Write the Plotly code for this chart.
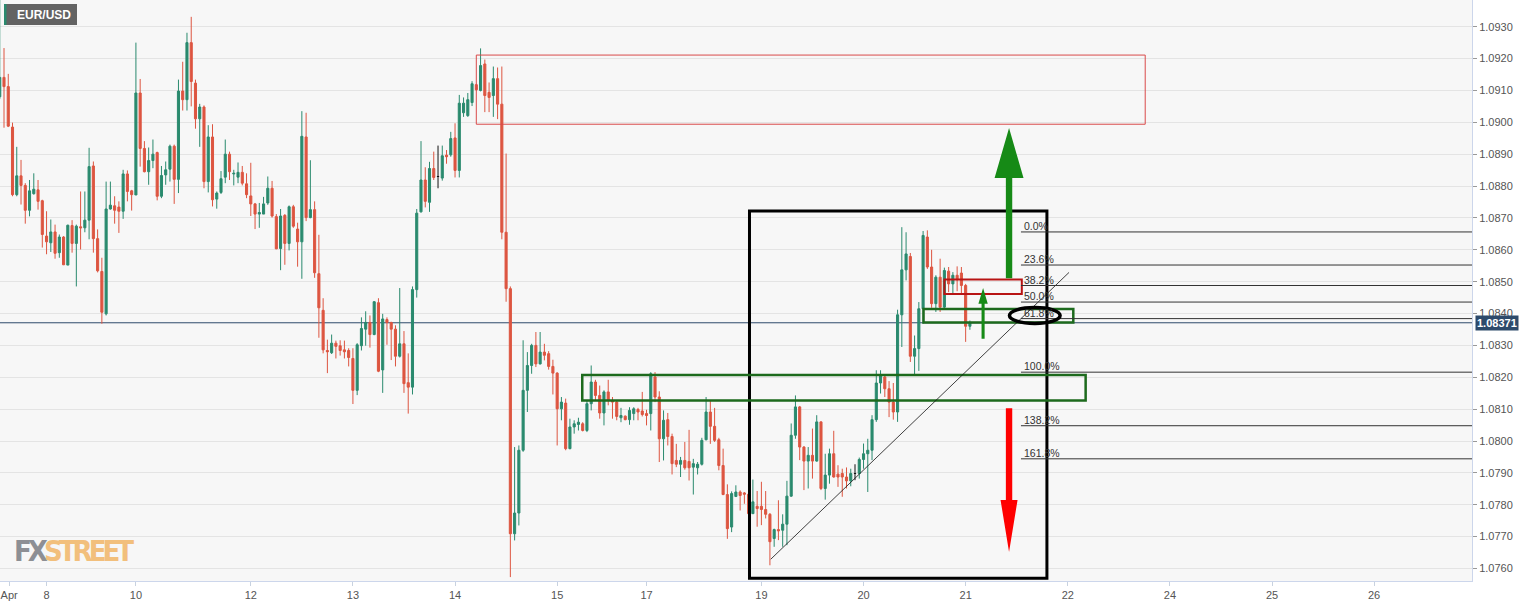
import plotly.graph_objects as go

ticker = "EUR/USD"
last_price = 1.08371

# hourly candles, index -1 .. 227
candle_open = [
    1.09080, 1.09141, 1.09112, 1.08985, 1.08773, 1.08832, 1.08802, 1.08724, 1.08776, 1.08788,
    1.08754, 1.08643, 1.08622, 1.08656, 1.08591, 1.08640, 1.08552, 1.08676, 1.08620, 1.08672,
    1.08669, 1.08693, 1.08863, 1.08635, 1.08532, 1.08399, 1.08728, 1.08738, 1.08734, 1.08721,
    1.08838, 1.08785, 1.08772, 1.09092, 1.08918, 1.08845, 1.08880, 1.08905, 1.08768, 1.08835,
    1.08853, 1.08925, 1.08821, 1.09098, 1.09071, 1.09250, 1.09123, 1.09011, 1.09048, 1.08814,
    1.08954, 1.08759, 1.08780, 1.08828, 1.08900, 1.08838, 1.08828, 1.08843, 1.08807, 1.08769,
    1.08744, 1.08712, 1.08712, 1.08747, 1.08793, 1.08704, 1.08604, 1.08708, 1.08620, 1.08735,
    1.08665, 1.08625, 1.08954, 1.08701, 1.08726, 1.08525, 1.08410, 1.08284, 1.08277, 1.08307,
    1.08299, 1.08286, 1.08284, 1.08259, 1.08159, 1.08299, 1.08351, 1.08372, 1.08334, 1.08434,
    1.08223, 1.08381, 1.08372, 1.08351, 1.08266, 1.08305, 1.08183, 1.08169, 1.08475, 1.08719,
    1.08819, 1.08749, 1.08855, 1.08830, 1.08825, 1.08897, 1.08898, 1.08951, 1.08849, 1.09030,
    1.09021, 1.09062, 1.09118, 1.09100, 1.09183, 1.09094, 1.09084, 1.09137, 1.09057, 1.08655,
    1.08478, 1.07709, 1.07774, 1.07971, 1.08159, 1.08237, 1.08300, 1.08242, 1.08279, 1.08274,
    1.08234, 1.08213, 1.08101, 1.08119, 1.07976, 1.08044, 1.08052, 1.08054, 1.08033, 1.08117,
    1.08185, 1.08143, 1.08088, 1.08154, 1.08127, 1.08122, 1.08073, 1.08078, 1.08067, 1.08086,
    1.08099, 1.08094, 1.08086, 1.08086, 1.08201, 1.08138, 1.08007, 1.08067, 1.08014, 1.07939,
    1.07927, 1.07939, 1.07936, 1.07918, 1.07916, 1.07927, 1.08004, 1.08091, 1.08046, 1.08004,
    1.07923, 1.07832, 1.07730, 1.07826, 1.07840, 1.07837, 1.07833, 1.07772, 1.07795, 1.07795,
    1.07785, 1.07770, 1.07694, 1.07722, 1.07720, 1.07739, 1.07827, 1.08018, 1.08107, 1.07981,
    1.07937, 1.07955, 1.07937, 1.08060, 1.07851, 1.07893, 1.07960, 1.07896, 1.07898, 1.07887,
    1.07875, 1.07898, 1.07898, 1.07942, 1.07960, 1.07971, 1.08067, 1.08182, 1.08201, 1.08164,
    1.08122, 1.08091, 1.08396, 1.08537, 1.08579, 1.08266, 1.08290, 1.08415, 1.08640, 1.08546,
    1.08431, 1.08514, 1.08420, 1.08533, 1.08493, 1.08520, 1.08527, 1.08488, 1.08360,
]
candle_high = [
    1.09400, 1.09233, 1.09152, 1.08999, 1.08923, 1.08882, 1.08809, 1.08819, 1.08840, 1.08819,
    1.08757, 1.08721, 1.08695, 1.08679, 1.08648, 1.08643, 1.08679, 1.08693, 1.08679, 1.08783,
    1.08783, 1.08920, 1.08877, 1.08664, 1.08575, 1.08814, 1.08814, 1.08768, 1.08752, 1.08851,
    1.08849, 1.08788, 1.09250, 1.09136, 1.08941, 1.08921, 1.08946, 1.08908, 1.08863, 1.08877,
    1.08930, 1.08930, 1.09134, 1.09190, 1.09281, 1.09331, 1.09134, 1.09058, 1.09053, 1.08991,
    1.08994, 1.08783, 1.08847, 1.08946, 1.08908, 1.08851, 1.08874, 1.08863, 1.08840, 1.08873,
    1.08747, 1.08747, 1.08766, 1.08830, 1.08816, 1.08712, 1.08728, 1.08712, 1.08739, 1.08741,
    1.08685, 1.09035, 1.09030, 1.08881, 1.08752, 1.08647, 1.08448, 1.08318, 1.08334, 1.08315,
    1.08316, 1.08315, 1.08291, 1.08291, 1.08307, 1.08388, 1.08407, 1.08394, 1.08439, 1.08448,
    1.08399, 1.08388, 1.08374, 1.08363, 1.08480, 1.08345, 1.08275, 1.08485, 1.08728, 1.08941,
    1.08859, 1.08876, 1.08908, 1.08927, 1.08927, 1.08913, 1.08970, 1.08997, 1.09086, 1.09078,
    1.09092, 1.09129, 1.09121, 1.09232, 1.09197, 1.09125, 1.09175, 1.09172, 1.09175, 1.08902,
    1.08485, 1.07981, 1.07986, 1.08316, 1.08279, 1.08305, 1.08342, 1.08342, 1.08305, 1.08282,
    1.08255, 1.08216, 1.08138, 1.08133, 1.08070, 1.08065, 1.08073, 1.08059, 1.08127, 1.08237,
    1.08192, 1.08174, 1.08159, 1.08192, 1.08138, 1.08127, 1.08104, 1.08080, 1.08106, 1.08106,
    1.08104, 1.08154, 1.08098, 1.08216, 1.08216, 1.08156, 1.08096, 1.08088, 1.08023, 1.07991,
    1.07950, 1.07997, 1.08035, 1.07944, 1.07934, 1.08010, 1.08138, 1.08127, 1.08104, 1.08010,
    1.07976, 1.07864, 1.07842, 1.07861, 1.07845, 1.07840, 1.07840, 1.07879, 1.07843, 1.07872,
    1.07843, 1.07774, 1.07725, 1.07814, 1.07770, 1.07875, 1.08055, 1.08143, 1.08110, 1.07984,
    1.07981, 1.08039, 1.08081, 1.08062, 1.07960, 1.07976, 1.08032, 1.07924, 1.07913, 1.07917,
    1.07913, 1.07927, 1.07948, 1.07992, 1.08007, 1.08081, 1.08222, 1.08222, 1.08209, 1.08188,
    1.08182, 1.08412, 1.08671, 1.08655, 1.08590, 1.08331, 1.08436, 1.08659, 1.08661, 1.08600,
    1.08520, 1.08572, 1.08544, 1.08546, 1.08530, 1.08548, 1.08546, 1.08493, 1.08378,
]
candle_low = [
    1.09073, 1.08983, 1.08985, 1.08768, 1.08768, 1.08742, 1.08682, 1.08705, 1.08773, 1.08726,
    1.08607, 1.08586, 1.08593, 1.08572, 1.08575, 1.08552, 1.08552, 1.08591, 1.08485, 1.08601,
    1.08655, 1.08633, 1.08591, 1.08529, 1.08368, 1.08394, 1.08726, 1.08682, 1.08653, 1.08697,
    1.08752, 1.08723, 1.08772, 1.08861, 1.08843, 1.08804, 1.08856, 1.08755, 1.08762, 1.08804,
    1.08814, 1.08744, 1.08778, 1.09037, 1.09037, 1.09050, 1.08980, 1.08923, 1.08793, 1.08780,
    1.08736, 1.08729, 1.08775, 1.08809, 1.08819, 1.08802, 1.08809, 1.08802, 1.08762, 1.08706,
    1.08665, 1.08669, 1.08712, 1.08741, 1.08701, 1.08602, 1.08536, 1.08553, 1.08598, 1.08669,
    1.08547, 1.08509, 1.08690, 1.08699, 1.08512, 1.08324, 1.08275, 1.08213, 1.08273, 1.08259,
    1.08268, 1.08259, 1.08234, 1.08116, 1.08144, 1.08284, 1.08299, 1.08293, 1.08332, 1.08216,
    1.08151, 1.08302, 1.08254, 1.08234, 1.08262, 1.08151, 1.08086, 1.08146, 1.08450, 1.08717,
    1.08733, 1.08719, 1.08819, 1.08793, 1.08817, 1.08870, 1.08892, 1.08827, 1.08827, 1.09017,
    1.09017, 1.09051, 1.09100, 1.09097, 1.09032, 1.09032, 1.09017, 1.09010, 1.08633, 1.08437,
    1.07573, 1.07688, 1.07735, 1.07966, 1.08091, 1.08211, 1.08232, 1.08240, 1.08253, 1.08224,
    1.08146, 1.07986, 1.08065, 1.07971, 1.07974, 1.08023, 1.08033, 1.08030, 1.08028, 1.08096,
    1.08127, 1.08070, 1.08049, 1.08112, 1.08070, 1.08065, 1.08059, 1.08065, 1.08051, 1.08065,
    1.08065, 1.08077, 1.08049, 1.08033, 1.08122, 1.07934, 1.07939, 1.07986, 1.07895, 1.07918,
    1.07887, 1.07910, 1.07876, 1.07832, 1.07895, 1.07923, 1.08002, 1.07991, 1.07997, 1.07908,
    1.07830, 1.07693, 1.07714, 1.07824, 1.07782, 1.07803, 1.07765, 1.07772, 1.07731, 1.07736,
    1.07757, 1.07610, 1.07668, 1.07689, 1.07668, 1.07673, 1.07825, 1.08007, 1.07940, 1.07846,
    1.07851, 1.07882, 1.07935, 1.07846, 1.07816, 1.07866, 1.07885, 1.07856, 1.07825, 1.07851,
    1.07858, 1.07877, 1.07882, 1.07913, 1.07840, 1.07940, 1.08060, 1.08149, 1.08138, 1.08075,
    1.08067, 1.08060, 1.08295, 1.08504, 1.08248, 1.08209, 1.08220, 1.08368, 1.08540, 1.08418,
    1.08405, 1.08405, 1.08415, 1.08467, 1.08462, 1.08470, 1.08464, 1.08311, 1.08349,
]
candle_close = [
    1.09141, 1.09112, 1.08988, 1.08773, 1.08832, 1.08802, 1.08724, 1.08785, 1.08790, 1.08752,
    1.08648, 1.08625, 1.08656, 1.08589, 1.08640, 1.08553, 1.08677, 1.08620, 1.08674, 1.08669,
    1.08693, 1.08861, 1.08635, 1.08534, 1.08404, 1.08728, 1.08740, 1.08724, 1.08721, 1.08838,
    1.08783, 1.08773, 1.09092, 1.08918, 1.08845, 1.08880, 1.08900, 1.08768, 1.08833, 1.08851,
    1.08925, 1.08821, 1.09098, 1.09071, 1.09250, 1.09128, 1.09011, 1.09048, 1.08814, 1.08954,
    1.08757, 1.08778, 1.08823, 1.08900, 1.08845, 1.08840, 1.08843, 1.08809, 1.08773, 1.08744,
    1.08712, 1.08717, 1.08744, 1.08793, 1.08706, 1.08603, 1.08706, 1.08620, 1.08735, 1.08674,
    1.08625, 1.08956, 1.08701, 1.08726, 1.08528, 1.08418, 1.08286, 1.08280, 1.08307, 1.08297,
    1.08284, 1.08280, 1.08262, 1.08159, 1.08302, 1.08353, 1.08372, 1.08334, 1.08437, 1.08219,
    1.08383, 1.08372, 1.08351, 1.08266, 1.08305, 1.08180, 1.08169, 1.08475, 1.08715, 1.08819,
    1.08752, 1.08855, 1.08827, 1.08830, 1.08895, 1.08892, 1.08949, 1.08849, 1.09060, 1.09060,
    1.09071, 1.09121, 1.09102, 1.09178, 1.09084, 1.09078, 1.09137, 1.09057, 1.08655, 1.08478,
    1.07709, 1.07774, 1.07971, 1.08159, 1.08237, 1.08300, 1.08242, 1.08279, 1.08269, 1.08234,
    1.08213, 1.08101, 1.08122, 1.07976, 1.08044, 1.08054, 1.08059, 1.08033, 1.08117, 1.08185,
    1.08143, 1.08088, 1.08154, 1.08127, 1.08122, 1.08077, 1.08080, 1.08067, 1.08096, 1.08101,
    1.08091, 1.08083, 1.08080, 1.08211, 1.08138, 1.08007, 1.08065, 1.08014, 1.07929, 1.07927,
    1.07939, 1.07916, 1.07916, 1.07929, 1.07927, 1.08002, 1.08091, 1.08046, 1.08002, 1.07923,
    1.07832, 1.07725, 1.07835, 1.07840, 1.07829, 1.07833, 1.07772, 1.07809, 1.07788, 1.07785,
    1.07770, 1.07684, 1.07722, 1.07718, 1.07739, 1.07827, 1.08018, 1.08107, 1.07981, 1.07937,
    1.07955, 1.07937, 1.08060, 1.07851, 1.07893, 1.07960, 1.07887, 1.07887, 1.07887, 1.07875,
    1.07898, 1.07898, 1.07942, 1.07960, 1.07971, 1.08067, 1.08182, 1.08206, 1.08164, 1.08122,
    1.08091, 1.08396, 1.08537, 1.08587, 1.08266, 1.08290, 1.08415, 1.08645, 1.08546, 1.08431,
    1.08514, 1.08420, 1.08535, 1.08493, 1.08520, 1.08506, 1.08488, 1.08360, 1.08371,
]
bar_index = list(range(-1, 228))

date_labels = ["Apr", "8", "10", "12", "13", "14", "15", "17", "19", "20", "21", "22", "24", "25", "26"]
date_bar = [1.2, 10, 31, 58, 82, 106, 130, 151, 178, 202, 226, 250, 274, 298, 322]

fib_high = 1.08656
fib_low = 1.08216
fib_ratios = [0.0, 0.236, 0.382, 0.5, 0.618, 1.0, 1.382, 1.618]
fib_labels = ["0.0%", "23.6%", "38.2%", "50.0%", "61.8%", "100.0%", "138.2%", "161.8%"]

price_ticks = [round(1.0760 + 0.001 * k, 4) for k in range(18)]

UP = "#2a8a6e"
DOWN = "#dd5540"

fig = go.Figure()

reg = [k for k in range(len(bar_index)) if candle_open[k] != candle_close[k]]
doj = [k for k in range(len(bar_index)) if candle_open[k] == candle_close[k]]

fig.add_trace(go.Candlestick(
    x=[bar_index[k] for k in reg],
    open=[candle_open[k] for k in reg],
    high=[candle_high[k] for k in reg],
    low=[candle_low[k] for k in reg],
    close=[candle_close[k] for k in reg],
    increasing=dict(line=dict(color=UP, width=1), fillcolor=UP),
    decreasing=dict(line=dict(color=DOWN, width=1), fillcolor=DOWN),
    showlegend=False, hoverinfo="skip",
))
fig.add_trace(go.Candlestick(
    x=[bar_index[k] for k in doj],
    open=[candle_open[k] for k in doj],
    high=[candle_high[k] for k in doj],
    low=[candle_low[k] for k in doj],
    close=[candle_close[k] for k in doj],
    increasing=dict(line=dict(color="#111111", width=1), fillcolor="#111111"),
    decreasing=dict(line=dict(color="#111111", width=1), fillcolor="#111111"),
    showlegend=False, hoverinfo="skip",
))

X_MIN, X_MAX = -0.94, 345.0
Y_MIN, Y_MAX = 1.075607, 1.093838

shapes = []
shapes.append(dict(type="line", xref="paper", yref="y", x0=0, x1=1, y0=last_price, y1=last_price,
                   line=dict(color="#2d4a6b", width=1), layer="below"))
shapes.append(dict(type="rect", xref="x", yref="y", x0=111.0, x1=268.2, y0=1.08994, y1=1.09211,
                   line=dict(color="#d94a4a", width=1)))
shapes.append(dict(type="rect", xref="x", yref="y", x0=175.2, x1=245.1, y0=1.07569, y1=1.08722,
                   line=dict(color="#000000", width=3)))
shapes.append(dict(type="rect", xref="x", yref="y", x0=135.9, x1=254.2, y0=1.08127, y1=1.08207,
                   line=dict(color="#1d6a1d", width=2.5)))
shapes.append(dict(type="rect", xref="x", yref="y", x0=216.1, x1=251.3, y0=1.08372, y1=1.08414,
                   line=dict(color="#1d6a1d", width=2.5)))
shapes.append(dict(type="rect", xref="x", yref="y", x0=221.0, x1=239.2, y0=1.08461, y1=1.08507,
                   line=dict(color="#b81414", width=2)))
shapes.append(dict(type="line", xref="x", yref="y", x0=180.2, y0=1.07629, x1=250.3, y1=1.08529,
                   line=dict(color="#111111", width=0.8)))
for r in fib_ratios:
    lvl = fib_high - r * (fib_high - fib_low)
    shapes.append(dict(type="line", xref="x", yref="y", x0=239.0, x1=X_MAX, y0=lvl, y1=lvl,
                       line=dict(color="#333333", width=1)))
shapes.append(dict(type="circle", xref="x", yref="y", x0=236.3, x1=248.2, y0=1.08369, y1=1.08419,
                   line=dict(color="#000000", width=3.5)))


def arrow_path(xc, y_base, y_head, y_tip, sw, hw):
    return (f"M {xc-sw},{y_base} L {xc-sw},{y_head} L {xc-hw},{y_head} L {xc},{y_tip} "
            f"L {xc+hw},{y_head} L {xc+sw},{y_head} L {xc+sw},{y_base} Z")


GREEN_ARROW = "#168a16"
shapes.append(dict(type="path", xref="x", yref="y",
                   path=arrow_path(236.2, 1.08511, 1.08825, 1.08982, 0.75, 3.4),
                   fillcolor=GREEN_ARROW, line=dict(width=0)))
shapes.append(dict(type="path", xref="x", yref="y",
                   path=arrow_path(236.2, 1.08103, 1.07815, 1.07652, 0.75, 2.0),
                   fillcolor="#ff0000", line=dict(width=0)))
shapes.append(dict(type="path", xref="x", yref="y",
                   path=arrow_path(230.1, 1.08321, 1.08431, 1.08480, 0.36, 1.1),
                   fillcolor=GREEN_ARROW, line=dict(width=0)))

PW, PH = 1472.0, 581.0
shapes.append(dict(type="rect", xref="paper", yref="paper", x0=4 / PW, x1=77 / PW,
                   y0=1 - 25 / PH, y1=1 - 4 / PH, fillcolor="#636363", line=dict(width=0)))
shapes.append(dict(type="rect", xref="paper", yref="paper", x0=4 / PW, x1=6.5 / PW,
                   y0=1 - 25 / PH, y1=1 - 4 / PH, fillcolor=UP, line=dict(width=0)))

annotations = []
for r, lab in zip(fib_ratios, fib_labels):
    lvl = fib_high - r * (fib_high - fib_low)
    annotations.append(dict(x=239.2, y=lvl, xref="x", yref="y", text=lab, showarrow=False,
                            xanchor="left", yanchor="bottom", yshift=-2,
                            font=dict(family="Liberation Sans, Arial, sans-serif", size=10.5, color="#333333")))
annotations.append(dict(x=15 / PW, y=1 - 14.5 / PH, xref="paper", yref="paper", text="<b>" + ticker + "</b>",
                        showarrow=False, xanchor="left", yanchor="middle",
                        font=dict(family="Liberation Sans, Arial, sans-serif", size=12, color="#ffffff")))
annotations.append(dict(x=12 / PW, y=1 - 551 / PH, xref="paper", yref="paper",
                        text="<span style='color:#8d8f94;letter-spacing:-4px'>FX</span>"
                             "<span style='color:#f2bf7c;letter-spacing:-4px'>STREET</span>",
                        showarrow=False, xanchor="left", yanchor="middle",
                        font=dict(family="Liberation Sans Narrow, DejaVu Sans Condensed, sans-serif",
                                  size=29, weight="bold")))
annotations.append(dict(x=1, y=last_price, xref="paper", yref="y", text=f"<b>{last_price:.5f}</b>",
                        showarrow=False, xanchor="left", yanchor="middle", xshift=3,
                        bgcolor="#2d4a6b", borderpad=1,
                        font=dict(family="Liberation Sans, Arial, sans-serif", size=11, color="#ffffff")))

fig.update_layout(
    width=1536, height=604,
    margin=dict(l=0, r=64, t=0, b=23),
    paper_bgcolor="#ffffff",
    plot_bgcolor="#f7f7f7",
    shapes=shapes,
    annotations=annotations,
    showlegend=False,
    xaxis=dict(
        range=[X_MIN, X_MAX], rangeslider=dict(visible=False),
        tickmode="array", tickvals=date_bar, ticktext=date_labels,
        ticks="outside", ticklen=4, tickcolor="#c8d2e0",
        ticklabeloverflow="allow",
        showgrid=False, zeroline=False,
        showline=True, linecolor="#ccd6eb", linewidth=1, mirror=True,
        tickfont=dict(family="Liberation Sans, Arial, sans-serif", size=11, color="#555555"),
    ),
    yaxis=dict(
        range=[Y_MIN, Y_MAX], side="right",
        tickmode="array", tickvals=price_ticks, ticktext=[f"{v:.4f}" for v in price_ticks],
        ticks="outside", ticklen=4, tickcolor="#999999",
        showgrid=True, gridcolor="#e4e4e4", gridwidth=1, zeroline=False,
        showline=True, linecolor="#ccd6eb", linewidth=1, mirror=True,
        tickfont=dict(family="Liberation Sans, Arial, sans-serif", size=11, color="#555555"),
    ),
)

fig.write_html("out.html", include_plotlyjs=True, config={"displayModeBar": False},
               post_script="document.body.style.margin='0px';document.body.style.overflow='hidden';")
